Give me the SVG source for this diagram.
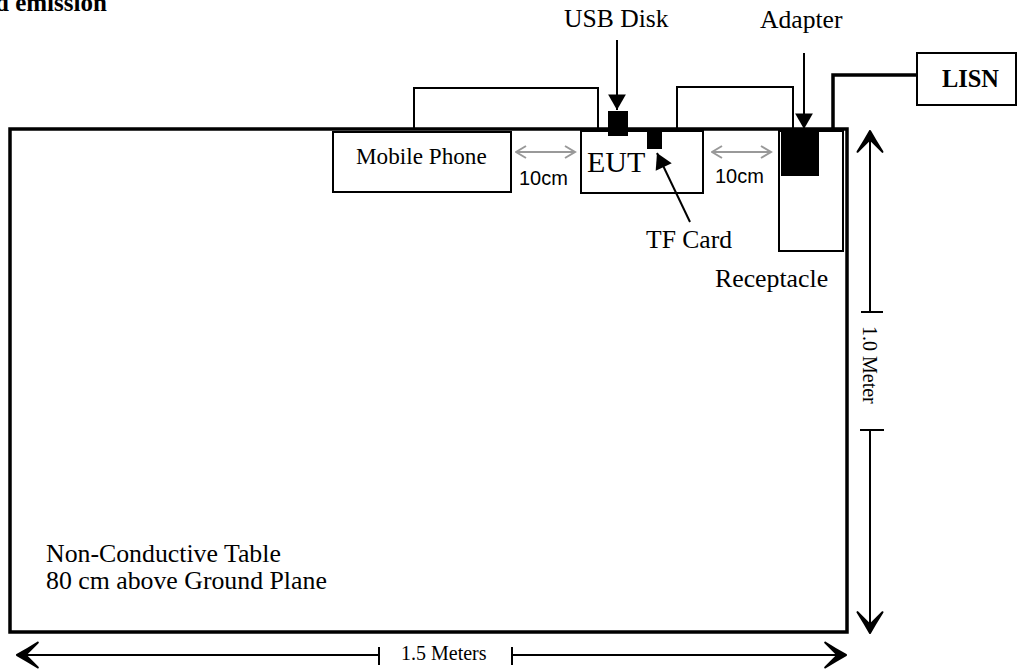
<svg xmlns="http://www.w3.org/2000/svg" width="1019" height="669" viewBox="0 0 1019 669">
<style>
.box{fill:#fff;stroke:#000;stroke-width:2}
.blk{fill:#000}
.t{font-family:"Liberation Serif","Times New Roman",serif;fill:#000}
.a{font-family:"Liberation Sans",Arial,sans-serif;fill:#000}
.cable{fill:none;stroke:#000;stroke-width:2}
.ptr{fill:none;stroke:#000;stroke-width:2}
.gray{fill:none;stroke:#999;stroke-width:2}
.dim{fill:none;stroke:#000;stroke-width:2}
</style>
<defs>
<marker id="tri" markerUnits="userSpaceOnUse" markerWidth="20" markerHeight="20" viewBox="-15 -9 16 18" refX="0" refY="0" orient="auto">
<path d="M0,0 L-14,-8 L-14,8 Z" fill="#000"/>
</marker>
<marker id="gv" markerUnits="userSpaceOnUse" markerWidth="14" markerHeight="14" viewBox="-12 -7 13 14" refX="0" refY="0" orient="auto-start-reverse">
<path d="M-10,-6 L0,0 L-10,6" fill="none" stroke="#999" stroke-width="2"/>
</marker>
<marker id="dv" markerUnits="userSpaceOnUse" markerWidth="26" markerHeight="30" viewBox="-23 -14 25 28" refX="0" refY="0" orient="auto">
<path d="M0,0 Q-9,-5 -20,-12 Q-11,-3 -8,0 Q-11,3 -20,12 Q-9,5 0,0 Z" fill="#000" stroke="#000" stroke-width="2" stroke-linejoin="round"/>
</marker>
</defs>
<rect width="1019" height="669" fill="#fff"/>

<text class="t" x="-5" y="11" font-size="25" font-weight="bold">d emission</text>

<g id="table">
<rect x="10" y="129" width="837" height="503" fill="#fff" stroke="#000" stroke-width="3.5"/>
<text class="t" x="46" y="562" font-size="25.8">Non-Conductive Table</text>
<text class="t" x="46" y="589" font-size="25.8">80 cm above Ground Plane</text>
</g>

<g id="mobile">
<rect class="box" x="333" y="132" width="178" height="60"/>
<text class="t" x="356" y="164" font-size="23.2">Mobile Phone</text>
</g>

<g id="eut">
<rect class="box" x="581" y="131" width="122" height="62"/>
<text class="t" x="587" y="172" font-size="30">EUT</text>
</g>

<g id="usb">
<rect class="blk" x="608" y="111" width="20" height="25"/>
<text class="t" x="564" y="27" font-size="25.6">USB Disk</text>
</g>

<g id="tf">
<rect class="blk" x="647" y="131" width="15" height="18"/>
<text class="t" x="646" y="248" font-size="25.6">TF Card</text>
</g>

<g id="receptacle">
<rect class="box" x="779" y="131" width="64" height="120"/>
<text class="t" x="715" y="287" font-size="25.8">Receptacle</text>
</g>

<g id="adapter">
<rect class="blk" x="781" y="131" width="38" height="45"/>
<text class="t" x="760" y="28" font-size="25.6">Adapter</text>
</g>

<g id="lisn">
<rect class="box" x="917" y="53" width="99" height="52"/>
<text class="t" x="942" y="87" font-size="24.4" font-weight="bold">LISN</text>
</g>

<g id="connectors">
<polyline class="cable" points="414,129 414,88 598,88 598,129"/>
<polyline class="cable" points="677,129 677,87 793,87 793,131"/>
<polyline fill="none" stroke="#000" stroke-width="3.5" points="833,129 833,75 917,75"/>
<line class="ptr" x1="617" y1="40" x2="617" y2="110" marker-end="url(#tri)"/>
<line class="ptr" x1="804" y1="53" x2="804" y2="129" marker-end="url(#tri)"/>
<line class="ptr" x1="690" y1="222" x2="657" y2="153" marker-end="url(#tri)"/>
<line class="gray" x1="516" y1="152" x2="575" y2="152" marker-start="url(#gv)" marker-end="url(#gv)"/>
<line class="gray" x1="712" y1="152" x2="771" y2="152" marker-start="url(#gv)" marker-end="url(#gv)"/>
<line class="dim" x1="870" y1="312" x2="870" y2="131" marker-end="url(#dv)"/>
<line class="dim" x1="870" y1="430" x2="870" y2="633" marker-end="url(#dv)"/>
<line class="dim" x1="861" y1="312" x2="883" y2="312"/>
<line class="dim" x1="860" y1="430" x2="884" y2="430"/>
<line class="dim" x1="379" y1="655" x2="17" y2="655" marker-end="url(#dv)"/>
<line class="dim" x1="512" y1="655" x2="846" y2="655" marker-end="url(#dv)"/>
<line class="dim" x1="379" y1="647" x2="379" y2="665"/>
<line class="dim" x1="512" y1="647" x2="512" y2="665"/>
</g>

<g id="labels">
<text class="a" x="519" y="185" font-size="20">10cm</text>
<text class="a" x="715" y="183" font-size="20">10cm</text>
<text class="t" x="401" y="660" font-size="20">1.5 Meters</text>
<text class="t" font-size="20" transform="translate(863,326) rotate(90)">1.0 Meter</text>
</g>
</svg>
